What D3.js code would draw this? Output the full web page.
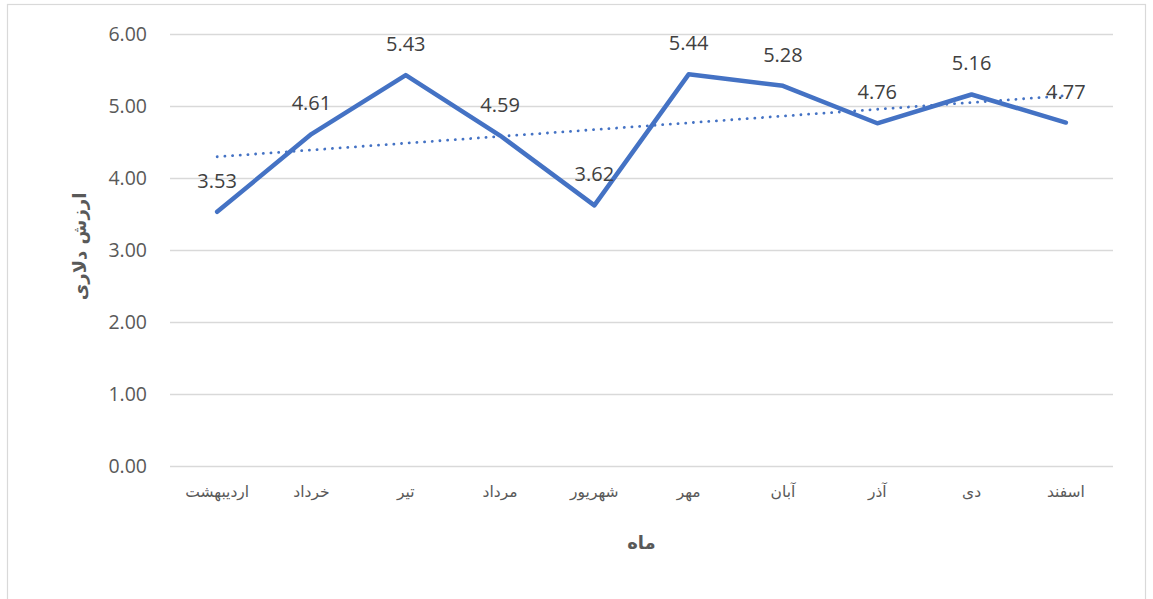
<!DOCTYPE html>
<html>
<head>
<meta charset="utf-8">
<script src="https://cdnjs.cloudflare.com/ajax/libs/d3/7.8.5/d3.min.js"></script>
<style>
  body { margin: 0; background: #fff; }
  svg { display: block; }
</style>
</head>
<body>
<svg></svg>
<script>
// chart data
const months = ["اردیبهشت", "خرداد", "تیر", "مرداد", "شهریور", "مهر", "آبان", "آذر", "دی", "اسفند"];
const dollarValues = [3.53, 4.61, 5.43, 4.59, 3.62, 5.44, 5.28, 4.76, 5.16, 4.77];
const yTicks = [0, 1, 2, 3, 4, 5, 6];

const width = 1153, height = 599;
const margin = {top: 34, right: 40, bottom: 133, left: 170};
const blue = "#4472C4";

const svg = d3.select("svg")
    .attr("width", width)
    .attr("height", height);

// chart area border
svg.append("rect")
    .attr("x", 7.5).attr("y", 4.5)
    .attr("width", 1138).attr("height", 620)
    .attr("fill", "none")
    .attr("stroke", "#d9d9d9")
    .attr("stroke-width", 1.2);

const x = d3.scaleBand()
    .domain(months)
    .range([margin.left, width - margin.right]);

const y = d3.scaleLinear()
    .domain([0, 6])
    .range([height - margin.bottom, margin.top]);

// gridlines + y labels
const yAxis = svg.append("g")
    .attr("transform", `translate(${margin.left},0)`)
    .call(d3.axisLeft(y).tickValues(yTicks).tickFormat(d3.format(".2f"))
        .tickSize(-(width - margin.right - margin.left)).tickPadding(23));
yAxis.select(".domain").remove();
yAxis.selectAll(".tick line").attr("stroke", "#d9d9d9").attr("stroke-width", 1.3);
yAxis.selectAll(".tick text")
    .attr("fill", "#595959")
    .style("font-family", "'Open Sans', 'DejaVu Sans', sans-serif")
    .style("font-size", "19.5px");

// x labels
const xAxis = svg.append("g")
    .attr("transform", `translate(0,${height - margin.bottom})`)
    .call(d3.axisBottom(x).tickSize(0).tickPadding(20));
xAxis.select(".domain").remove();
xAxis.selectAll(".tick text")
    .attr("fill", "#595959")
    .style("font-family", "'DejaVu Sans', sans-serif")
    .style("font-size", "15.5px");

// axis titles
svg.append("text")
    .attr("x", (margin.left + width - margin.right) / 2)
    .attr("y", 549)
    .attr("text-anchor", "middle")
    .attr("fill", "#595959")
    .style("font-family", "'DejaVu Sans', sans-serif")
    .style("font-weight", "bold")
    .style("font-size", "18px")
    .text("ماه");

svg.append("text")
    .attr("transform", `translate(86,${y(3.05)}) rotate(-90)`)
    .attr("text-anchor", "middle")
    .attr("fill", "#595959")
    .style("font-family", "'DejaVu Sans', sans-serif")
    .style("font-weight", "bold")
    .style("font-size", "18px")
    .text("ارزش دلاری");

const cx = d => x(d) + x.bandwidth() / 2;

// linear trendline (least squares over month index)
const n = dollarValues.length;
const xs = d3.range(n);
const mx = d3.mean(xs), my = d3.mean(dollarValues);
const slope = d3.sum(xs, i => (i - mx) * (dollarValues[i] - my)) / d3.sum(xs, i => (i - mx) ** 2);
const intercept = my - slope * mx;

svg.append("line")
    .attr("x1", cx(months[0])).attr("y1", y(intercept))
    .attr("x2", cx(months[n - 1])).attr("y2", y(intercept + slope * (n - 1)))
    .attr("stroke", blue)
    .attr("stroke-width", 2.8)
    .attr("stroke-linecap", "round")
    .attr("stroke-dasharray", "0.1 7.6");

// main line
const line = d3.line()
    .x((d, i) => cx(months[i]))
    .y(d => y(d));

svg.append("path")
    .datum(dollarValues)
    .attr("d", line)
    .attr("fill", "none")
    .attr("stroke", blue)
    .attr("stroke-width", 4.5)
    .attr("stroke-linejoin", "round")
    .attr("stroke-linecap", "round");

// data labels
svg.append("g")
    .selectAll("text")
    .data(dollarValues)
    .join("text")
    .attr("x", (d, i) => cx(months[i]))
    .attr("y", d => y(d) - 24)
    .attr("text-anchor", "middle")
    .attr("fill", "#404040")
    .style("font-family", "'Open Sans', 'DejaVu Sans', sans-serif")
    .style("font-size", "20px")
    .text(d => d.toFixed(2));
</script>
</body>
</html>
